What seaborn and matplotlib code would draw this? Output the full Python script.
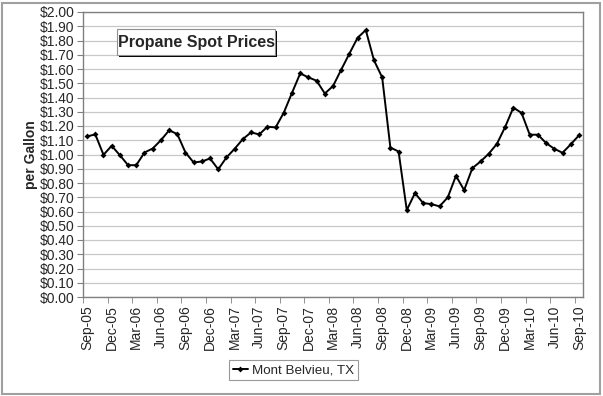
import matplotlib
matplotlib.use("Agg")
import matplotlib.pyplot as plt
import numpy as np
import pandas as pd
import seaborn as sns
from matplotlib.patches import Rectangle
from matplotlib.ticker import FixedLocator

months = ["Sep-05", "Oct-05", "Nov-05", "Dec-05", "Jan-06", "Feb-06", "Mar-06",
          "Apr-06", "May-06", "Jun-06", "Jul-06", "Aug-06", "Sep-06", "Oct-06",
          "Nov-06", "Dec-06", "Jan-07", "Feb-07", "Mar-07", "Apr-07", "May-07",
          "Jun-07", "Jul-07", "Aug-07", "Sep-07", "Oct-07", "Nov-07", "Dec-07",
          "Jan-08", "Feb-08", "Mar-08", "Apr-08", "May-08", "Jun-08", "Jul-08",
          "Aug-08", "Sep-08", "Oct-08", "Nov-08", "Dec-08", "Jan-09", "Feb-09",
          "Mar-09", "Apr-09", "May-09", "Jun-09", "Jul-09", "Aug-09", "Sep-09",
          "Oct-09", "Nov-09", "Dec-09", "Jan-10", "Feb-10", "Mar-10", "Apr-10",
          "May-10", "Jun-10", "Jul-10", "Aug-10", "Sep-10"]
prices = [1.127, 1.141, 0.998, 1.061, 0.995, 0.925, 0.925, 1.014, 1.042, 1.100,
          1.169, 1.144, 1.014, 0.944, 0.951, 0.972, 0.896, 0.979, 1.040, 1.108,
          1.155, 1.141, 1.195, 1.190, 1.294, 1.433, 1.569, 1.541, 1.518, 1.428,
          1.480, 1.595, 1.708, 1.819, 1.873, 1.661, 1.541, 1.049, 1.021, 0.610,
          0.729, 0.659, 0.652, 0.636, 0.699, 0.850, 0.750, 0.904, 0.951, 1.005,
          1.075, 1.193, 1.329, 1.292, 1.139, 1.139, 1.080, 1.040, 1.012, 1.071,
          1.134]
series_name = "Mont Belvieu, TX"

df = pd.DataFrame({"idx": np.arange(len(months)), "price": prices,
                   "site": series_name})

sns.set_style("white")
plt.rcParams["font.family"] = ["Liberation Sans", "DejaVu Sans"]

fig = plt.figure(figsize=(6.03, 3.96), dpi=100)
W, H = 603, 396
ax = fig.add_axes([83 / W, 1 - 297 / H, 500 / W, 285 / H])

sns.lineplot(data=df, x="idx", y="price", hue="site", palette=["black"],
             marker="D", markersize=3, markeredgewidth=0, linewidth=1.4, ax=ax)

ax.set_xlim(-0.5, len(months) - 0.5)
ax.set_ylim(0, 2.0)
yt = np.round(np.arange(0, 2.01, 0.1), 2)
ax.set_yticks(yt)
ax.set_yticklabels([f"${v:.2f}" for v in yt], fontsize=10)
ax.yaxis.grid(True, color="#c8c8c8", lw=0.9)
ax.tick_params(axis="y", length=4, color="#808080", pad=2, left=True)

ax.set_xticks(np.arange(0, len(months), 3))
ax.set_xticklabels(months[::3], rotation=90, fontsize=10)
ax.xaxis.set_minor_locator(FixedLocator(np.arange(-0.5, len(months), 3)))
ax.tick_params(axis="x", which="major", length=0, pad=6)
ax.tick_params(axis="x", which="minor", length=4, color="#808080", bottom=True)

ax.set_xlabel("")
ax.set_ylabel("per Gallon", fontsize=10, fontweight="bold", labelpad=1)
for s in ax.spines.values():
    s.set_color("#808080")
    s.set_linewidth(1)

# title box with drop shadow
fig.patches.append(Rectangle((119 / W, 1 - 57 / H), 158 / W, 26 / H,
                             transform=fig.transFigure, fc="black", ec="none",
                             zorder=5))
fig.patches.append(Rectangle((117 / W, 1 - 55 / H), 158 / W, 26 / H,
                             transform=fig.transFigure, fc="white", ec="#909090",
                             lw=0.8, zorder=6))
fig.text(196 / W, 1 - 42 / H, "Propane Spot Prices", fontsize=11.5,
         fontweight="bold", ha="center", va="center", zorder=7)

leg = ax.legend(loc="upper left", bbox_to_anchor=(229 / W, 1 - 360 / H),
                bbox_transform=fig.transFigure, frameon=True, fontsize=9.6,
                handlelength=1.1, handletextpad=0.3, borderpad=0.3,
                borderaxespad=0, fancybox=False)
leg.get_frame().set_edgecolor("#808080")
leg.get_frame().set_linewidth(0.8)

fig.patches.append(Rectangle((2 / W, 2 / H), 598 / W, 391 / H,
                             transform=fig.transFigure, fill=False,
                             ec="#a0a0a0", lw=1.5))

fig.savefig("out.png", dpi=100)
